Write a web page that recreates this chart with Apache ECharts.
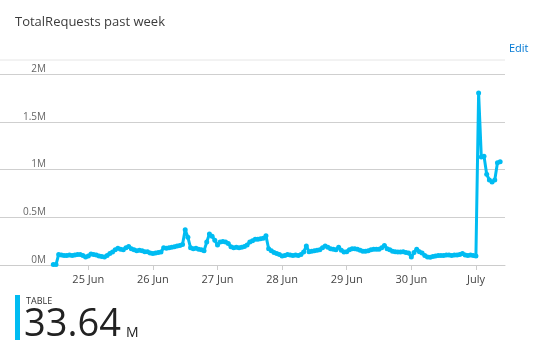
<!DOCTYPE html>
<html>
<head>
<meta charset="utf-8">
<script src="https://cdn.jsdelivr.net/npm/echarts@6/dist/echarts.min.js"></script>
<style>
html,body{margin:0;padding:0;background:#fff;}
#chart{width:535px;height:355px;}
</style>
</head>
<body>
<div id="chart"></div>
<script>
// ---- data (hourly TotalRequests, in millions) ----
// x values are hours relative to 25 Jun 00:00; series starts 24 Jun 11:00
const seriesStartHour = -13;
const jun24 = [0.005,0.005,0.11,0.105,0.10,0.10,0.105,0.10,0.105,0.11,0.11,0.10,0.085];
const jun25 = [0.095,0.115,0.11,0.105,0.095,0.09,0.085,0.10,0.12,0.135,0.16,0.175,0.165,0.16,0.18,0.195,0.17,0.16,0.15,0.155,0.15,0.14,0.14,0.125];
const jun26 = [0.12,0.125,0.13,0.135,0.18,0.175,0.18,0.185,0.19,0.20,0.205,0.215,0.37,0.29,0.18,0.17,0.175,0.165,0.16,0.15,0.24,0.325,0.30,0.26];
const jun27 = [0.21,0.24,0.245,0.24,0.225,0.19,0.18,0.185,0.18,0.185,0.195,0.21,0.24,0.255,0.27,0.27,0.275,0.28,0.305,0.17,0.15,0.13,0.12,0.11];
const jun28 = [0.095,0.10,0.11,0.105,0.10,0.105,0.10,0.11,0.135,0.20,0.14,0.145,0.15,0.155,0.16,0.18,0.20,0.185,0.17,0.165,0.16,0.185,0.155,0.135];
const jun29 = [0.14,0.16,0.17,0.17,0.165,0.155,0.145,0.145,0.15,0.16,0.165,0.165,0.165,0.18,0.205,0.17,0.16,0.145,0.14,0.135,0.135,0.14,0.13,0.125];
const jun30 = [0.085,0.13,0.165,0.14,0.125,0.10,0.085,0.08,0.09,0.095,0.10,0.10,0.10,0.105,0.105,0.10,0.105,0.105,0.11,0.12,0.105,0.10,0.105,0.10];
const jul01 = [0.095,1.80,1.13,1.14,0.95,0.89,0.87,0.89,1.07,1.08];

const xTickHours = [0, 24, 48, 72, 96, 120, 144];
const xTickLabels = ['25 Jun','26 Jun','27 Jun','28 Jun','29 Jun','30 Jun','July'];
const yTickValues = [0, 500000, 1000000, 1500000, 2000000];
const yTickLabels = ['0M','0.5M','1M','1.5M','2M'];

const titleText = 'TotalRequests past week';
const tileLabel = 'TABLE';
const tileValue = '33.64';
const tileUnit = 'M';

// ---- build series ----
const allValues = [].concat(jun24, jun25, jun26, jun27, jun28, jun29, jun30, jul01);
const seriesData = allValues.map((v, i) => [seriesStartHour + i, v * 1e6]);

const FONT = "'Open Sans', 'Noto Sans', sans-serif";
const chart = echarts.init(document.getElementById('chart'), null, {renderer: 'canvas'});

chart.setOption({
  animation: false,
  backgroundColor: '#ffffff',
  textStyle: {fontFamily: FONT},
  title: {
    text: titleText,
    left: 10, top: 11,
    textStyle: {fontSize: 13, fontWeight: 'normal', color: '#3b3b3b', fontFamily: FONT}
  },
  grid: {left: 0, right: 30, top: 74, bottom: 90, containLabel: false},
  xAxis: {
    type: 'value',
    min: -32.8,
    max: 154.8,
    axisLine: {show: true, lineStyle: {color: '#cccccc', width: 1}},
    axisTick: {show: true, length: 5, lineStyle: {color: '#cccccc'}, customValues: xTickHours},
    axisLabel: {
      customValues: xTickHours,
      color: '#444444', fontSize: 11, margin: 9, fontFamily: FONT,
      formatter: function (val) {
        const i = xTickHours.indexOf(val);
        return i >= 0 ? xTickLabels[i] : '';
      }
    },
    splitLine: {show: false}
  },
  yAxis: {
    type: 'value',
    min: 0, max: 2000000, interval: 500000,
    axisLine: {show: false},
    axisTick: {show: false},
    axisLabel: {
      inside: true, margin: 46, align: 'right', verticalAlign: 'bottom',
      color: '#666666', fontSize: 10, fontFamily: FONT,
      formatter: function (val) {
        const i = yTickValues.indexOf(val);
        return i >= 0 ? yTickLabels[i] : '';
      }
    },
    splitLine: {show: true, lineStyle: {color: '#cfcfcf', width: 1}}
  },
  series: [{
    type: 'line',
    data: seriesData,
    showSymbol: true,
    symbol: 'circle',
    symbolSize: 5,
    itemStyle: {color: '#00bcf2'},
    lineStyle: {color: '#00bcf2', width: 3},
    z: 5
  }],
  graphic: [
    {type: 'line', shape: {x1: 0, y1: 60, x2: 505, y2: 60}, style: {stroke: '#e6e6e6', lineWidth: 1}, silent: true},
    {type: 'text', left: 509, top: 43, style: {text: 'Edit', fill: '#0078d4', fontSize: 11, fontFamily: FONT}},
    {type: 'rect', shape: {x: 15, y: 295, width: 5, height: 45}, style: {fill: '#00bcf2'}},
    {type: 'text', x: 26, y: 301, style: {text: tileLabel, fill: '#333333', fontSize: 9, fontFamily: FONT, verticalAlign: 'middle'}},
    {type: 'text', x: 24, y: 325, style: {text: tileValue, fill: '#222222', fontSize: 38, fontFamily: FONT, verticalAlign: 'middle'}},
    {type: 'text', x: 126, y: 333, style: {text: tileUnit, fill: '#222222', fontSize: 14, fontFamily: FONT, verticalAlign: 'middle'}}
  ]
});
</script>
</body>
</html>
